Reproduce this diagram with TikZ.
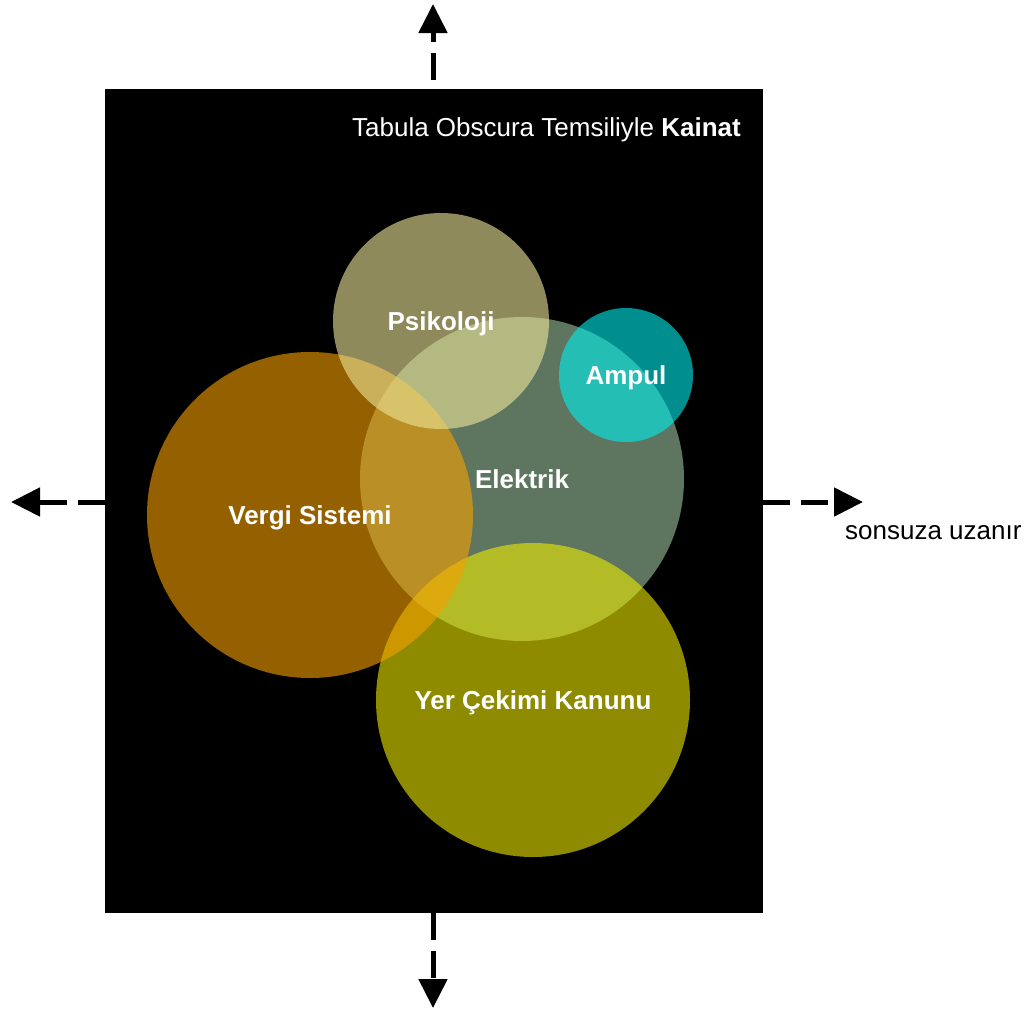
\documentclass[tikz,border=0pt]{standalone}
\usepackage{fontspec}
\setmainfont{Liberation Sans}
\usetikzlibrary{arrows.meta}
\definecolor{cVergi}{RGB}{248,160,0}
\definecolor{cElek}{RGB}{158,198,160}
\definecolor{cPsi}{RGB}{238,230,152}
\definecolor{cAmp}{RGB}{0,238,238}
\definecolor{cYer}{RGB}{237,233,0}
\tikzset{
  blob/.style={circle, inner sep=0pt, fill opacity=0.6, text opacity=1,
    text=white, text depth=0pt, font=\fontsize{26}{30}\selectfont\bfseries},
  farrow/.style={line width=5pt, dash pattern=on 27pt off 11pt,
    -{Triangle[width=28pt,length=29pt]}},
  plain/.style={font=\fontsize{26}{30}\selectfont, inner sep=0pt}
}
\begin{document}
\begin{tikzpicture}[x=1pt,y=-1pt]
\useasboundingbox (0,0) rectangle (1036,1012);
\fill[white] (0,0) rectangle (1036,1012);
\node[fill=black, inner sep=0pt, minimum width=658pt, minimum height=824pt, anchor=north west] (frame) at (105,89) {};
% circles (draw order matters)
\node[blob, fill=cElek, minimum size=324pt] (elek) at (522,479) {Elektrik};
\node[blob, fill=cYer, minimum size=314pt] (yer) at (533,700) {Yer Çekimi Kanunu};
\node[blob, fill=cVergi, minimum size=326pt] (vergi) at (310,515) {Vergi Sistemi};
\node[blob, fill=cPsi, minimum size=216pt] (psi) at (441,321) {Psikoloji};
\node[blob, fill=cAmp, minimum size=134pt] (amp) at (626,375) {Ampul};
% title
\node[plain, text=white, text depth=0pt, anchor=east] (title) at (741,127) {Tabula Obscura Temsiliyle \textbf{Kainat}};
% arrows
\coordinate (tipT) at (433,4);
\coordinate (tipB) at (433,1008);
\coordinate (tipL) at (11,502);
\coordinate (tipR) at (863,502);
\draw[farrow, dash phase=29pt] (frame.north -| tipT) -- (tipT);
\draw[farrow] (frame.south -| tipB) -- (tipB);
\draw[farrow] (frame.west |- tipL) -- (tipL);
\draw[farrow] (frame.east |- tipR) -- (tipR);
\node[plain, anchor=west] (inf) at (845,533) {sonsuza uzanır};
\end{tikzpicture}
\end{document}
